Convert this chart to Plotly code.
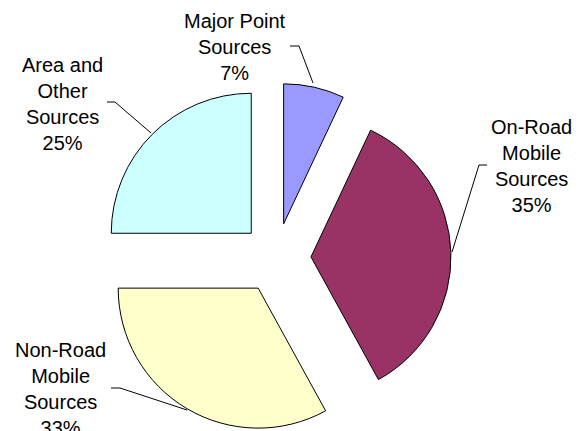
import plotly.graph_objects as go

labels = ["Major Point Sources", "On-Road Mobile Sources", "Non-Road Mobile Sources", "Area and Other Sources"]
label_lines = ["Major Point<br>Sources", "On-Road<br>Mobile<br>Sources", "Non-Road<br>Mobile<br>Sources", "Area and<br>Other<br>Sources"]
values = [7, 35, 33, 25]
colors = ["#9999FF", "#993366", "#FFFFCC", "#CCFFFF"]

W, H = 583, 431
OFF = 8  # page body margin offset


def px(x):
    return (x - OFF) / W


def py(y):
    return 1 - (y - OFF) / H


fig = go.Figure(go.Pie(
    labels=labels, values=values, sort=False, direction="clockwise", rotation=0,
    pull=[0.25] * len(values), textinfo="none", hoverinfo="label+percent",
    marker=dict(colors=colors, line=dict(color="black", width=1)),
    domain=dict(x=[px(101), px(451)], y=[py(433), py(83)]),
    showlegend=False,
))

total = sum(values)
label_pos = [(235, 47), (531, 166), (60, 389), (62, 104)]
leaders = [
    [(290, 46), (299, 46), (313, 83)],
    [(487, 165), (479, 165), (452, 252)],
    [(111, 388), (120, 388), (187, 410)],
    [(107, 102), (115, 102), (151, 133)],
]

for i, (lx, ly) in enumerate(label_pos):
    pct = round(values[i] / total * 100)
    fig.add_annotation(
        x=px(lx), y=py(ly), xref="paper", yref="paper", showarrow=False,
        text=f"{label_lines[i]}<br>{pct}%", align="center",
        font=dict(family="Liberation Sans, Arial", size=20, color="black"),
        xanchor="center", yanchor="middle",
    )
    pts = leaders[i]
    path = "M " + " L ".join(f"{px(x)},{py(y)}" for x, y in pts)
    fig.add_shape(type="path", path=path, xref="paper", yref="paper",
                  line=dict(color="black", width=1))

fig.update_layout(
    width=W, height=H, margin=dict(l=0, r=0, t=0, b=0),
    paper_bgcolor="white", plot_bgcolor="white",
)
fig.write_html("out.html")
